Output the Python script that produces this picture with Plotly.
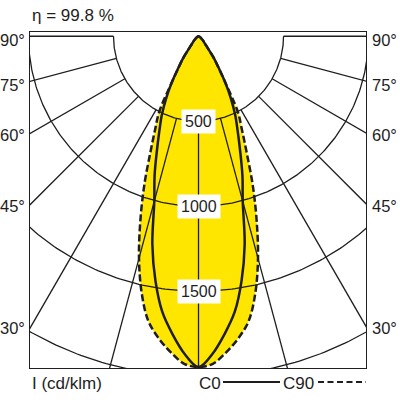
import numpy as np
import plotly.graph_objects as go

# luminous intensity distribution, I (cd/klm) against gamma angle (deg)
gamma = [0, 2.5, 5, 7.5, 10, 12.5, 15, 17.5, 20, 22.5, 25, 27.5, 30, 32.5, 35, 37.5, 40, 45, 50, 60, 70, 80, 90]
c0 = [1945, 1870, 1758, 1634, 1459, 1254, 1005, 859, 715, 601, 510, 413, 316, 220, 159, 95, 65, 40, 25, 10, 4, 1, 0]
c90 = [1945, 1928, 1866, 1792, 1700, 1545, 1352, 1137, 933, 740, 603, 500, 316, 220, 159, 95, 65, 40, 25, 10, 4, 1, 0]

rings = [500, 1000, 1500, 2000]
ring_labels = ['500', '1000', '1500']
side_angles = [90, 75, 60, 45, 30]
efficiency = 'η = 99.8 %'

XR = [-991, 985]
YR = [-1951, 25]
YELLOW = '#FFE600'
INK = '#1e1e1e'


def mirror(vals):
    ang = [-g for g in gamma[::-1]] + gamma[1:]
    v = vals[::-1] + vals[1:]
    a = np.radians(ang)
    v = np.array(v, dtype=float)
    return v * np.sin(a), -v * np.cos(a)


fig = go.Figure()

# yellow fill under the outer (C90) curve
x90, y90 = mirror(c90)
fig.add_trace(go.Scatter(x=x90, y=y90, mode='lines', fill='toself', fillcolor=YELLOW,
                         line=dict(width=0, color=YELLOW, shape='spline'), hoverinfo='skip'))

# polar grid: rings and radial lines
gx, gy = [], []
t = np.radians(np.linspace(-90, 90, 241))
for R in rings:
    gx += list(R * np.sin(t)) + [None]
    gy += list(-R * np.cos(t)) + [None]
for a in range(-90, 91, 15):
    r = np.radians(a)
    gx += [500 * np.sin(r), 4000 * np.sin(r), None]
    gy += [-500 * np.cos(r), -4000 * np.cos(r), None]
fig.add_trace(go.Scatter(x=gx, y=gy, mode='lines', line=dict(color=INK, width=1.3), hoverinfo='skip'))

# curves
x0, y0 = mirror(c0)
fig.add_trace(go.Scatter(x=x0, y=y0, mode='lines', line=dict(color=INK, width=2.5, shape='spline')))
fig.add_trace(go.Scatter(x=x90, y=y90, mode='lines',
                         line=dict(color=INK, width=2.5, shape='spline', dash='7px,3px')))

ann = []
for R, lab in zip(rings, ring_labels):
    ann.append(dict(x=0, y=-R, text=lab, showarrow=False, bgcolor='white', borderpad=3,
                    font=dict(size=16, color=INK)))


def px(xp):
    return (xp - 30) / 336


def py(yp):
    return (368 - yp) / 336


xedge = min(-XR[0], XR[1])
for a in side_angles:
    yd = 0 if a == 90 else -xedge / np.tan(np.radians(a))
    sh = -4 if a >= 75 else -2
    for xp, anc in [(px(27), 'right'), (px(370), 'left')]:
        ann.append(dict(x=xp, xref='paper', y=yd, yref='y', text=f'{a}°', showarrow=False,
                        xanchor=anc, yanchor='middle', yshift=sh, font=dict(size=16.5, color=INK)))

ann.append(dict(x=px(30), y=py(16), xref='paper', yref='paper', text=efficiency, showarrow=False,
                xanchor='left', yanchor='middle', font=dict(size=17, color=INK)))
ann.append(dict(x=px(30), y=py(383), xref='paper', yref='paper', text='I (cd/klm)', showarrow=False,
                xanchor='left', yanchor='middle', font=dict(size=17, color=INK)))
ann.append(dict(x=px(197), y=py(383), xref='paper', yref='paper', text='C0', showarrow=False,
                xanchor='left', yanchor='middle', font=dict(size=17, color=INK)))
ann.append(dict(x=px(281), y=py(383), xref='paper', yref='paper', text='C90', showarrow=False,
                xanchor='left', yanchor='middle', font=dict(size=17, color=INK)))

shapes = [
    dict(type='line', xref='paper', yref='paper', x0=px(223), x1=px(280), y0=py(382), y1=py(382),
         line=dict(color=INK, width=2)),
    dict(type='line', xref='paper', yref='paper', x0=px(318), x1=px(366), y0=py(382), y1=py(382),
         line=dict(color=INK, width=2, dash='6px,3.5px')),
]

fig.update_layout(
    width=400, height=400,
    margin=dict(l=30, r=34, t=32, b=32),
    paper_bgcolor='white', plot_bgcolor='white',
    showlegend=False,
    font=dict(family='Liberation Sans, Arial, sans-serif'),
    annotations=ann, shapes=shapes,
    xaxis=dict(range=XR, showgrid=False, zeroline=False, showticklabels=False, ticks='',
               showline=True, mirror=True, linecolor=INK, linewidth=1.3, fixedrange=True),
    yaxis=dict(range=YR, showgrid=False, zeroline=False, showticklabels=False, ticks='',
               showline=True, mirror=True, linecolor=INK, linewidth=1.3, fixedrange=True),
)

# page body has an 8px default margin; drop it so the figure sits at the window corner
fig.write_html('out.html', config={'displayModeBar': False},
               post_script="document.body.style.margin='0';")
